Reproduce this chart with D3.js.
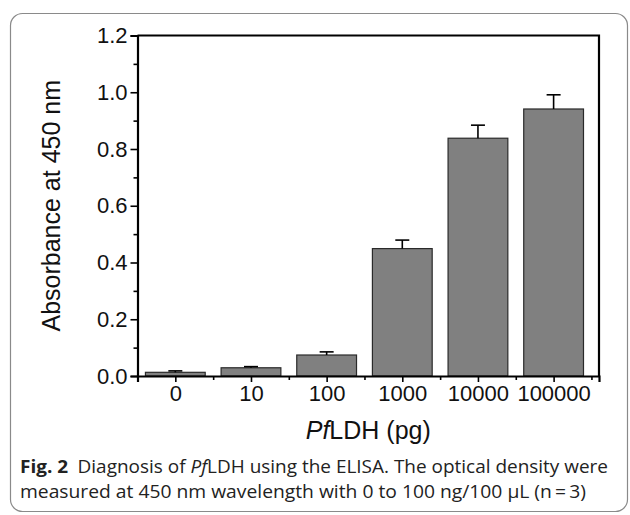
<!DOCTYPE html>
<html>
<head>
<meta charset="utf-8">
<script src="https://cdn.jsdelivr.net/npm/d3@7"></script>
<style>
  body { margin: 0; background: #fff; }
  svg { display: block; }
</style>
</head>
<body>
<div id="chart"></div>
<script>
const categories = ["0", "10", "100", "1000", "10000", "100000"];
const means = [0.013, 0.029, 0.074, 0.449, 0.838, 0.941];
const errors = [0.005, 0.004, 0.011, 0.030, 0.046, 0.050];
const yTicks = [0, 0.2, 0.4, 0.6, 0.8, 1.0, 1.2];

const W = 630, H = 515;
const plot = { left: 137.5, right: 599, top: 35.5, bottom: 376 };

const svg = d3.select("#chart")
    .append("svg")
    .attr("width", W)
    .attr("height", H);

// frame around the figure
svg.append("rect")
    .attr("x", 10.5)
    .attr("y", 13.5)
    .attr("width", 617)
    .attr("height", 498)
    .attr("rx", 12)
    .attr("fill", "none")
    .attr("stroke", "#8a8a8a")
    .attr("stroke-width", 1.2);

const x = d3.scaleLinear()
    .domain([-0.5, 5.6])
    .range([plot.left, plot.right]);

const y = d3.scaleLinear()
    .domain([0, 1.2])
    .range([plot.bottom, plot.top]);

const step = x(1) - x(0);
const barW = step * 0.79;

const data = categories.map((c, i) => ({ c: c, i: i, v: means[i], e: errors[i] }));

// bars
svg.append("g")
    .selectAll("rect")
    .data(data)
    .join("rect")
    .attr("x", d => x(d.i) - barW / 2)
    .attr("y", d => y(d.v))
    .attr("width", barW)
    .attr("height", d => y(0) - y(d.v))
    .attr("fill", "#808080")
    .attr("stroke", "#2a2a2a")
    .attr("stroke-width", 1.2);

// error bars (upper only)
const err = svg.append("g")
    .attr("stroke", "#000")
    .attr("stroke-width", 1.6);

err.selectAll("line.stem")
    .data(data)
    .join("line")
    .attr("class", "stem")
    .attr("x1", d => x(d.i))
    .attr("x2", d => x(d.i))
    .attr("y1", d => y(d.v))
    .attr("y2", d => y(d.v + d.e));

err.selectAll("line.cap")
    .data(data)
    .join("line")
    .attr("class", "cap")
    .attr("x1", d => x(d.i) - 7)
    .attr("x2", d => x(d.i) + 7)
    .attr("y1", d => y(d.v + d.e))
    .attr("y2", d => y(d.v + d.e));

// y axis
svg.append("g")
    .attr("transform", `translate(${plot.left},0)`)
    .call(d3.axisLeft(y).tickValues(yTicks).tickFormat(d3.format(".1f")).tickSize(7).tickPadding(3));

svg.append("g")
    .attr("transform", `translate(${plot.left},0)`)
    .call(d3.axisLeft(y).tickValues(d3.range(0.1, 1.2, 0.2)).tickFormat("").tickSize(4))
    .call(g => g.select(".domain").remove());

// x axis
svg.append("g")
    .attr("transform", `translate(0,${plot.bottom})`)
    .call(d3.axisBottom(x).tickValues(d3.range(0, 6)).tickFormat(i => categories[i]).tickSize(6).tickPadding(3));

svg.append("g")
    .attr("transform", `translate(0,${plot.bottom})`)
    .call(d3.axisBottom(x).tickValues(d3.range(0.5, 6, 1)).tickFormat("").tickSize(4))
    .call(g => g.select(".domain").remove());

svg.selectAll(".tick line").attr("stroke", "#000").attr("stroke-width", 1.6);
svg.selectAll(".domain").attr("stroke", "#000").attr("stroke-width", 2.2);
svg.selectAll(".tick text")
    .attr("font-family", "Liberation Sans, Arial, sans-serif")
    .attr("font-size", 22)
    .attr("fill", "#111");

// top and right frame lines
svg.append("path")
    .attr("d", `M${plot.left},${plot.top}H${plot.right}V${plot.bottom}`)
    .attr("fill", "none")
    .attr("stroke", "#000")
    .attr("stroke-width", 2.2);

// axis titles
svg.append("text")
    .attr("transform", `translate(60,${(plot.top + plot.bottom) / 2}) rotate(-90)`)
    .attr("text-anchor", "middle")
    .attr("font-family", "Liberation Sans, Arial, sans-serif")
    .attr("font-size", 25)
    .attr("fill", "#111")
    .text("Absorbance at 450 nm");

const xt = svg.append("text")
    .attr("x", (plot.left + plot.right) / 2)
    .attr("y", 439)
    .attr("text-anchor", "middle")
    .attr("font-family", "Liberation Sans, Arial, sans-serif")
    .attr("font-size", 25)
    .attr("fill", "#111");
xt.append("tspan").attr("font-style", "italic").text("Pf");
xt.append("tspan").text("LDH (pg)");

// caption
const capFont = "Open Sans, Noto Sans, sans-serif";
const cap1 = svg.append("text")
    .attr("x", 20)
    .attr("y", 473)
    .attr("font-family", capFont)
    .attr("font-size", 18)
    .attr("fill", "#222")
    .attr("textLength", 588)
    .attr("lengthAdjust", "spacingAndGlyphs");
cap1.append("tspan").attr("font-weight", "bold").text("Fig. 2");
cap1.append("tspan").text("\u2002Diagnosis of ");
cap1.append("tspan").attr("font-style", "italic").text("Pf");
cap1.append("tspan").text("LDH using the ELISA. The optical density were");

svg.append("text")
    .attr("x", 20)
    .attr("y", 498)
    .attr("font-family", capFont)
    .attr("font-size", 18)
    .attr("fill", "#222")
    .attr("textLength", 566)
    .attr("lengthAdjust", "spacingAndGlyphs")
    .text("measured at 450 nm wavelength with 0 to 100 ng/100 \u00b5L (n\u2009=\u20093)");
</script>
</body>
</html>
